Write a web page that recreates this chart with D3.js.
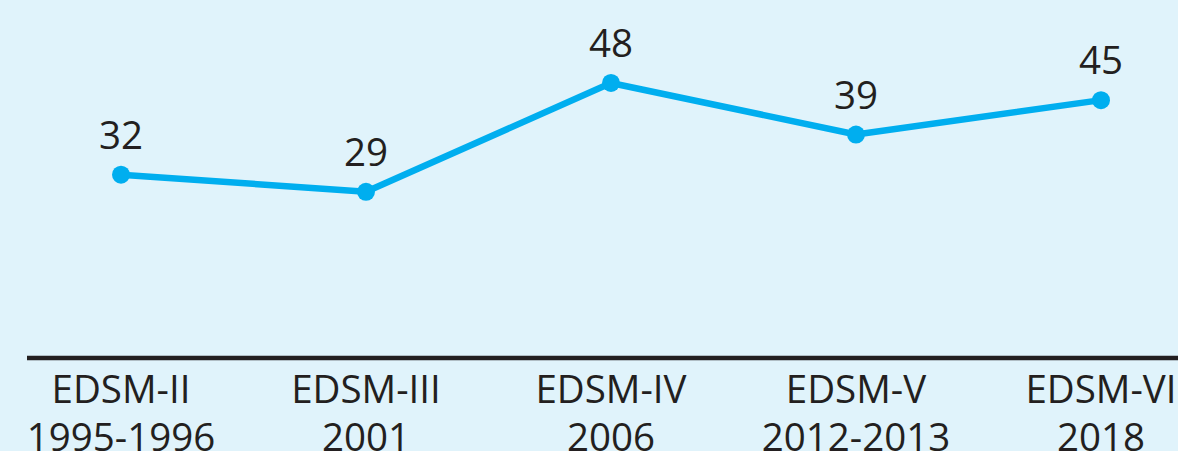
<!DOCTYPE html>
<html><head><meta charset="utf-8">
<script src="https://cdn.jsdelivr.net/npm/d3@7"></script>
<style>html,body{margin:0;padding:0;background:#e0f3fb;overflow:hidden}</style>
</head><body>
<svg id="c" width="1178" height="451"></svg>
<script>
const surveys = ["EDSM-II", "EDSM-III", "EDSM-IV", "EDSM-V", "EDSM-VI"];
const years = ["1995-1996", "2001", "2006", "2012-2013", "2018"];
const values = [32, 29, 48, 39, 45];

const W = 1178, H = 451;
const svg = d3.select("#c");
svg.append("rect").attr("width", W).attr("height", H).attr("fill", "#e0f3fb");

const x = d3.scalePoint().domain(surveys).range([121, 1101]);
const y = d3.scaleLinear().domain([0, 50]).range([358, 71.5]);

const font = "'Open Sans', 'Noto Sans', sans-serif";
const ink = "#231f20";
const blue = "#00aeef";

// baseline axis
const axis = d3.axisBottom(x).tickSize(0).tickFormat("");
const ag = svg.append("g").attr("transform", `translate(0,${y(0)})`).call(axis);
ag.select(".domain").remove();
ag.append("line").attr("x1", 27).attr("x2", W).attr("y1", 0).attr("y2", 0)
  .attr("stroke", ink).attr("stroke-width", 4.5);

// category labels
const lab = svg.append("g");
surveys.forEach((s, i) => {
  const t = lab.append("text").attr("x", x(s)).attr("text-anchor", "middle")
    .attr("font-family", font).attr("font-size", 38.5).attr("fill", ink);
  t.append("tspan").attr("x", x(s)).attr("y", 403).text(s);
  t.append("tspan").attr("x", x(s)).attr("y", 451).text(years[i]);
});

const data = surveys.map((s, i) => ({s, v: values[i]}));
const line = d3.line().x(d => x(d.s)).y(d => y(d.v));
svg.append("path").datum(data).attr("d", line).attr("fill", "none")
  .attr("stroke", blue).attr("stroke-width", 6.5).attr("stroke-linejoin", "round");
svg.selectAll("circle.pt").data(data).join("circle").attr("class", "pt")
  .attr("cx", d => x(d.s)).attr("cy", d => y(d.v)).attr("r", 9).attr("fill", blue);
svg.selectAll("text.val").data(data).join("text").attr("class", "val")
  .attr("x", d => x(d.s)).attr("y", d => y(d.v) - 26)
  .attr("text-anchor", "middle").attr("font-family", font).attr("font-size", 38.5)
  .attr("fill", ink).text(d => d.v);
</script>
</body></html>
